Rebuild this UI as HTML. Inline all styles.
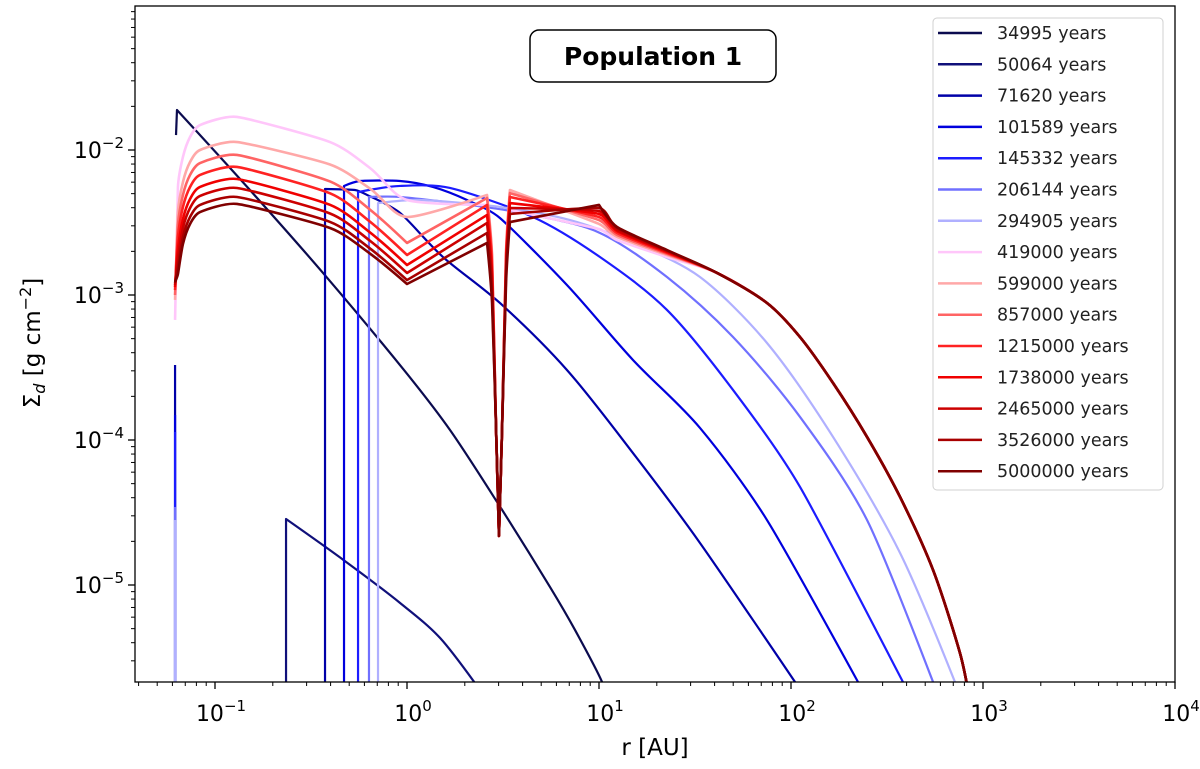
<!DOCTYPE html>
<html><head><meta charset="utf-8">
<style>
html,body{margin:0;padding:0;background:#fff;}
svg{display:block;font-family:"DejaVu Sans","Liberation Sans",sans-serif;}
</style></head>
<body>
<svg id="chart" width="1200" height="769" viewBox="0 0 1200 769" xmlns="http://www.w3.org/2000/svg">
<defs><clipPath id="plotclip"><rect x="135" y="6" width="1040" height="676"/></clipPath></defs>
<rect x="0" y="0" width="1200" height="769" fill="#fff"/>
<g id="series" clip-path="url(#plotclip)"></g>
<g id="axes"></g>
<g>
<rect x="530" y="30" width="246" height="52" rx="9" fill="#fff" stroke="#000" stroke-width="1.5"/>
<text x="653" y="65" text-anchor="middle" font-size="25" font-weight="bold">Population 1</text>
</g>
<g id="legend"></g>
<text x="655" y="755" text-anchor="middle" font-size="23">r [AU]</text>
<text transform="translate(40,343) rotate(-90)" text-anchor="middle" font-size="23">Σ<tspan font-style="italic" font-size="16" dy="5">d</tspan><tspan dy="-5"> [g cm</tspan><tspan font-size="16" dy="-9">−2</tspan><tspan dy="9">]</tspan></text>
</svg>
<script>
// ---- data (log10 r [AU], log10 Sigma_d [g cm^-2]) ----
const seriesLabels = ["34995 years","50064 years","71620 years","101589 years","145332 years","206144 years","294905 years","419000 years","599000 years","857000 years","1215000 years","1738000 years","2465000 years","3526000 years","5000000 years"];
const seriesColors = ["#0b0b4f","#10107a","#0000a8","#0000dd","#1c1cff","#7070ff","#b0b0ff","#ffc6fa","#ffa8a8","#ff6464","#ff2222","#f00000","#cc0000","#a80000","#800000"];

const logR_34995 = [-1.203,-1.198,-0.818,-0.4375,-0.016,0.224,0.479,0.745,0.875,1.016,1.05];
const logS_34995 = [-1.897,-1.724,-2.276,-2.848,-3.517,-3.931,-4.448,-5.014,-5.310,-5.669,-5.85];
const logR_50064 = [-0.630,-0.630,-0.323,-0.036,0.172,0.380];
const logS_50064 = [-6.0,-4.545,-4.835,-5.124,-5.365,-5.724];
const innerRingLogR = -1.208;
const innerRingTop = [-3.483,-3.828,-3.945,-4.462,-4.552];
const logR_71620 = [-0.427,-0.427,-0.271,-0.208,-0.036,0.1875,0.484,0.833,1.177,1.526,2.021,2.073];
const logS_71620 = [-6.0,-2.269,-2.276,-2.310,-2.434,-2.738,-3.055,-3.517,-4.090,-4.710,-5.669,-5.793];
const logR_101589 = [-0.328,-0.328,-0.245,-0.036,0.135,0.3125,0.484,0.833,1.177,1.526,1.875,2.349,2.391];
const logS_101589 = [-6.0,-2.248,-2.214,-2.214,-2.255,-2.345,-2.469,-2.931,-3.448,-3.917,-4.552,-5.669,-5.793];
const logR_145332 = [-0.255,-0.255,-0.036,0.224,0.656,1.005,1.354,1.698,2.047,2.583,2.625];
const logS_145332 = [-6.0,-2.290,-2.248,-2.262,-2.462,-2.738,-3.103,-3.655,-4.324,-5.669,-5.793];
const logR_206144 = [-0.198,-0.198,-0.036,0.328,0.656,1.005,1.354,1.698,2.047,2.396,2.740,2.776];
const logS_206144 = [-6.0,-2.324,-2.324,-2.379,-2.448,-2.572,-2.876,-3.290,-3.841,-4.552,-5.669,-5.793];
const logR_294905 = [-0.151,-0.151,0.068,0.484,0.849,1.177,1.526,1.875,2.219,2.568,2.854,2.891];
const logS_294905 = [-6.0,-2.366,-2.345,-2.393,-2.483,-2.641,-2.876,-3.331,-3.979,-4.779,-5.669,-5.793];

const logR_red = [-1.208,-1.193,-1.167,-1.130,-1.078,-0.885,-0.401,-0.193,0,0.417,0.443,0.464,0.479,0.495,0.516,0.536,1.0,1.094,1.354,1.615,1.875,2.047,2.219,2.396,2.568,2.740,2.880,2.932];
const logS_tail = [-2.848,-3.055,-3.290,-3.607,-3.979,-4.393,-4.897,-5.469,-5.8];
const logS_419000  = [-3.172,-2.255,-2.048,-1.910,-1.828,-1.772,-1.945,-2.124,-2.345,-2.379,-2.793,-3.931,-4.662,-3.931,-2.828,-2.414,-2.545,-2.621,-2.738];
const logS_599000  = [-3.034,-2.428,-2.221,-2.083,-2.000,-1.945,-2.100,-2.266,-2.462,-2.310,-2.724,-3.931,-4.662,-3.931,-2.690,-2.276,-2.510,-2.600,-2.724];
const logS_857000  = [-3.000,-2.517,-2.310,-2.172,-2.090,-2.034,-2.217,-2.411,-2.641,-2.331,-2.745,-3.931,-4.662,-3.931,-2.710,-2.297,-2.483,-2.586,-2.717];
const logS_1215000 = [-2.966,-2.600,-2.393,-2.255,-2.172,-2.117,-2.299,-2.494,-2.724,-2.379,-2.793,-3.931,-4.662,-3.931,-2.738,-2.324,-2.462,-2.572,-2.710];
const logS_1738000 = [-2.945,-2.683,-2.476,-2.338,-2.255,-2.200,-2.378,-2.568,-2.793,-2.448,-2.862,-3.931,-4.662,-3.931,-2.779,-2.366,-2.441,-2.559,-2.703];
const logS_2465000 = [-2.931,-2.745,-2.538,-2.400,-2.317,-2.262,-2.438,-2.626,-2.848,-2.503,-2.917,-3.931,-4.662,-3.931,-2.814,-2.400,-2.421,-2.552,-2.697];
const logS_3526000 = [-2.917,-2.807,-2.600,-2.462,-2.379,-2.324,-2.496,-2.679,-2.897,-2.572,-2.986,-3.931,-4.662,-3.931,-2.855,-2.441,-2.400,-2.538,-2.693];
const logS_5000000 = [-2.910,-2.855,-2.648,-2.510,-2.428,-2.372,-2.538,-2.714,-2.924,-2.641,-3.055,-3.931,-4.662,-3.931,-2.910,-2.497,-2.379,-2.531,-2.690];

const xTickExps = [-1,0,1,2,3,4];
const yTickExps = [-2,-3,-4,-5];

const PX0 = 135, PX1 = 1175, PY0 = 6, PY1 = 682;
function X(lr){ return 407 + 192*lr; }
function Y(ls){ return 150 + (-2 - ls)*145; }
const NS = "http://www.w3.org/2000/svg";
function mk(tag, attrs, parent){ const e=document.createElementNS(NS,tag); for(const k in attrs) e.setAttribute(k,attrs[k]); parent.appendChild(e); return e; }

function smoothPath(pts){
  const n = pts.length;
  const tan = [];
  for(let i=0;i<n;i++){
    if(i===0||i===n-1){ tan.push([0,0]); continue; }
    const a=pts[i-1], b=pts[i], c=pts[i+1];
    const v1=[b[0]-a[0],b[1]-a[1]], v2=[c[0]-b[0],c[1]-b[1]];
    const l1=Math.hypot(v1[0],v1[1]), l2=Math.hypot(v2[0],v2[1]);
    if(l1<1e-6||l2<1e-6){ tan.push([0,0]); continue; }
    const cos=(v1[0]*v2[0]+v1[1]*v2[1])/(l1*l2);
    if(cos<0.5){ tan.push([0,0]); continue; }
    const k = Math.min(l1,l2)/(l1+l2);
    tan.push([(c[0]-a[0])*k*0.5,(c[1]-a[1])*k*0.5]);
  }
  let d='M'+pts[0][0].toFixed(2)+' '+pts[0][1].toFixed(2);
  for(let i=0;i<n-1;i++){
    const p=pts[i], q=pts[i+1];
    const c1=[p[0]+tan[i][0]*0.66,p[1]+tan[i][1]*0.66];
    const c2=[q[0]-tan[i+1][0]*0.66,q[1]-tan[i+1][1]*0.66];
    d+='C'+c1[0].toFixed(2)+' '+c1[1].toFixed(2)+' '+c2[0].toFixed(2)+' '+c2[1].toFixed(2)+' '+q[0].toFixed(2)+' '+q[1].toFixed(2);
  }
  return d;
}

const sg = document.getElementById('series');
function drawLine(lr, ls, color, w, name){
  const pts = lr.map(function(r,i){ return [X(r), Y(ls[i])]; });
  const p = mk('path',{d:smoothPath(pts),fill:'none',stroke:color,'stroke-width':w,'stroke-linejoin':'round','stroke-linecap':'butt'},sg);
  
  
}
const blueR = [logR_71620,logR_101589,logR_145332,logR_206144,logR_294905];
const blueS = [logS_71620,logS_101589,logS_145332,logS_206144,logS_294905];
drawLine(logR_34995, logS_34995, seriesColors[0], 2.2, 'line-34995-years');
drawLine(logR_50064, logS_50064, seriesColors[1], 2.2, 'line-50064-years');
for(let i=0;i<5;i++){
  drawLine([innerRingLogR,innerRingLogR],[-6,innerRingTop[i]], seriesColors[i+2], 2.2, 'inner-ring-'+seriesLabels[i+2].replace(' ','-'));
  drawLine(blueR[i], blueS[i], seriesColors[i+2], 2.2, 'line-'+seriesLabels[i+2].replace(' ','-'));
}
const redS = [logS_419000,logS_599000,logS_857000,logS_1215000,logS_1738000,logS_2465000,logS_3526000,logS_5000000];
for(let i=0;i<redS.length;i++){
  drawLine(logR_red, redS[i].concat(logS_tail), seriesColors[i+7], 2.6, 'line-'+seriesLabels[i+7].replace(' ','-'));
}

const ax = document.getElementById('axes');
const frame = mk('rect',{x:PX0,y:PY0,width:PX1-PX0,height:PY1-PY0,fill:'none',stroke:'#000','stroke-width':1.3},ax);


for(let e=-2;e<=4;e++){
  for(let m=1;m<10;m++){
    const x = X(e + Math.log10(m));
    if(x < PX0-0.5 || x > PX1+0.5) continue;
    const len = m===1?7:4;
    const t = mk('line',{x1:x,y1:PY1,x2:x,y2:PY1+len,stroke:'#000','stroke-width':m===1?1.3:1},ax);
    
    
  }
}
xTickExps.forEach(function(e){
  const t = mk('text',{x:X(e)+6,y:721,'text-anchor':'middle','font-size':22},ax);
  
  
  t.innerHTML = '10<tspan font-size="15" dy="-10">'+(e<0?'−'+(-e):e)+'</tspan>';
});
for(let e=-6;e<=-1;e++){
  for(let m=1;m<10;m++){
    const y = Y(e + Math.log10(m));
    if(y < PY0-0.5 || y > PY1+0.5) continue;
    const len = m===1?7:4;
    const t = mk('line',{x1:PX0-len,y1:y,x2:PX0,y2:y,stroke:'#000','stroke-width':m===1?1.3:1},ax);
    
    
  }
}
yTickExps.forEach(function(e){
  const t = mk('text',{x:124,y:Y(e)+8,'text-anchor':'end','font-size':22},ax);
  
  
  t.innerHTML = '10<tspan font-size="15" dy="-10">−'+(-e)+'</tspan>';
});

const lg = document.getElementById('legend');
const lbox = mk('rect',{x:933,y:18,width:230,height:472,rx:4,fill:'#fff','fill-opacity':0.85,stroke:'#d0d0d0','stroke-width':1},lg);


seriesLabels.forEach(function(lab,i){
  const y = 33 + i*31.3;
  const g = mk('g',{},lg);
  
  
  mk('line',{x1:938,y1:y,x2:982,y2:y,stroke:seriesColors[i],'stroke-width':2.5},g);
  const t = mk('text',{x:997,y:y+6,'font-size':17.5,fill:'#222'},g);
  t.textContent = lab;
});
</script>
</body></html>
